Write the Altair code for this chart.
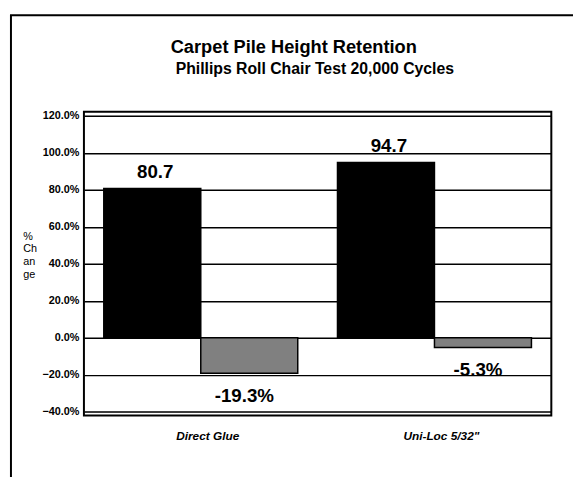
import altair as alt
import pandas as pd

categories = ["Direct Glue", 'Uni-Loc 5/32"']
series = ["Retention", "Change"]
retention = [80.7, 94.7]
change = [-19.3, -5.3]
retention_labels = ["80.7", "94.7"]
change_labels = ["-19.3%", "-5.3%"]
y_ticks = [-40, -20, 0, 20, 40, 60, 80, 100, 120]
title_text = "Carpet Pile Height Retention"
subtitle_text = "Phillips Roll Chair Test 20,000 Cycles"

rows = []
for c, r, ch, rl, cl in zip(categories, retention, change, retention_labels, change_labels):
    rows.append({"cat": c, "series": "Retention", "value": r, "label": rl})
    rows.append({"cat": c, "series": "Change", "value": ch, "label": cl})
df = pd.DataFrame(rows)

W, H = 474, 300
FONT = "Liberation Sans, Arial, sans-serif"
NARROW = "Liberation Sans Narrow, Liberation Sans, Arial, sans-serif"

x = alt.X(
    "cat:N", sort=categories,
    scale=alt.Scale(paddingInner=0.17, paddingOuter=0.085),
    axis=alt.Axis(title=None, labelAngle=0, ticks=False, domain=False, labelPadding=19,
                  labelFont=FONT, labelFontSize=12, labelFontWeight="bold",
                  labelFontStyle="italic", labelColor="black", labelOffset=7),
)
xo = alt.XOffset("series:N", sort=series, scale=alt.Scale(paddingInner=0, paddingOuter=0))
y = alt.Y(
    "value:Q",
    scale=alt.Scale(domain=[-40, 120], nice=False, zero=False),
    axis=alt.Axis(values=y_ticks, tickCount=len(y_ticks) + 2,
                  labelExpr="format(datum.value, '.1f') + '%'",
                  labelOverlap=False, labelBound=False,
                  ticks=False, domain=False, grid=True, gridColor="black", gridWidth=1.5,
                  gridOpacity=1, labelPadding=5, labelFont=FONT, labelFontSize=11,
                  labelFontWeight="bold", labelColor="black",
                  title=["%", "Ch", "an", "ge"], titleAngle=0, titleX=-62, titleY=116,
                  titleAlign="left", titleBaseline="top", titleLineHeight=13,
                  titleFontSize=11, titleFontWeight="normal", titleFont=NARROW,
                  titleColor="black"),
)
color = alt.Color("series:N", scale=alt.Scale(domain=series, range=["#000000", "#808080"]), legend=None)

base = alt.Chart(df)
bars = base.mark_bar(stroke="black", strokeWidth=1.5).encode(
    x=x, xOffset=xo, y=y, y2=alt.datum(0), color=color
)
pos_labels = base.transform_filter(alt.datum.value >= 0).mark_text(
    font=FONT, fontSize=19, fontWeight="bold", color="black", baseline="middle", dy=-17, dx=3
).encode(x=alt.X("cat:N", sort=categories), xOffset=xo, y=alt.Y("value:Q"), text="label:N")
neg_labels = base.transform_filter(alt.datum.value < 0).mark_text(
    font=FONT, fontSize=19, fontWeight="bold", color="black", baseline="middle", dy=23, dx=-5
).encode(x=alt.X("cat:N", sort=categories), xOffset=xo, y=alt.Y("value:Q"), text="label:N")

one = pd.DataFrame({"a": [0]})
frame = alt.Chart(one).mark_rect(fill="white", fillOpacity=0, stroke="black", strokeWidth=2).encode(
    x=alt.value(0), x2=alt.value(W), y=alt.value(-4), y2=alt.value(H + 4)
)
page = alt.Chart(one).mark_rect(fill="white", fillOpacity=0, stroke="black", strokeWidth=2).encode(
    x=alt.value(-74), x2=alt.value(W + 100), y=alt.value(-102), y2=alt.value(H + 200)
)
title = alt.Chart(pd.DataFrame({"t": [title_text]})).mark_text(
    font=FONT, fontSize=18.5, fontWeight="bold", color="black", align="left", baseline="alphabetic"
).encode(x=alt.value(88), y=alt.value(-64), text="t:N")
subtitle = alt.Chart(pd.DataFrame({"t": [subtitle_text]})).mark_text(
    font=FONT, fontSize=16, fontWeight="bold", color="black", align="left", baseline="alphabetic"
).encode(x=alt.value(93), y=alt.value(-42), text="t:N")

chart = alt.layer(page, bars, pos_labels, neg_labels, frame, title, subtitle).properties(
    width=W, height=H,
    autosize=alt.AutoSizeParams(type="none"),
    padding={"left": 77, "top": 106, "right": 22, "bottom": 63},
).configure_view(stroke=None).configure(background="white")

chart.save("out.html", embed_options={"renderer": "svg", "actions": False})
